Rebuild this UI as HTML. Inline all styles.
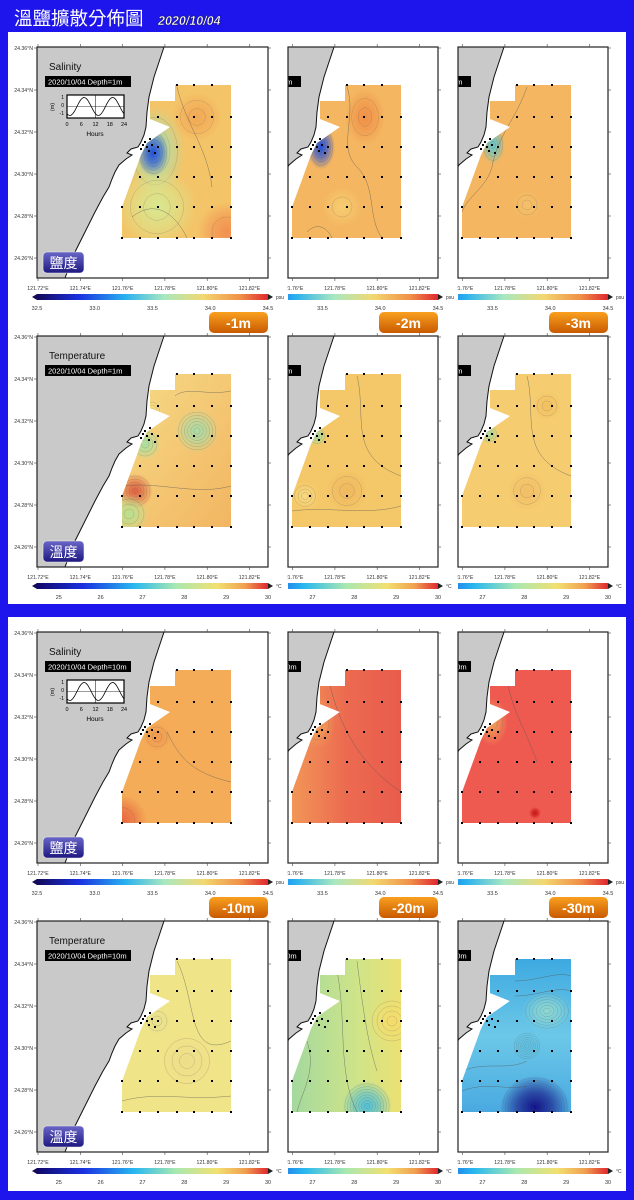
<!DOCTYPE html>
<html><head><meta charset="utf-8"><style>
html,body{margin:0;padding:0;background:#1e14ec;}
svg{display:block;font-family:"Liberation Sans","Noto Sans CJK TC",sans-serif;}
</style></head><body>
<svg id="s" width="634" height="1200" viewBox="0 0 634 1200" xmlns="http://www.w3.org/2000/svg">
<defs>
<linearGradient id="salbar" x1="0" x2="1"><stop offset="0" stop-color="#140a5a"/><stop offset="0.18" stop-color="#1a30e0"/><stop offset="0.38" stop-color="#28b0f0"/><stop offset="0.55" stop-color="#a8e8c0"/><stop offset="0.72" stop-color="#f2d870"/><stop offset="0.88" stop-color="#f09048"/><stop offset="1" stop-color="#e02830"/></linearGradient>
<linearGradient id="badge" x1="0" y1="0" x2="0" y2="1"><stop offset="0" stop-color="#6a66c8"/><stop offset="1" stop-color="#1c1880"/></linearGradient>
<linearGradient id="dbadge" x1="0" y1="0" x2="0" y2="1"><stop offset="0" stop-color="#f9a020"/><stop offset="1" stop-color="#c85a00"/></linearGradient>
</defs>
<rect x="0" y="0" width="634" height="1200" fill="#1e14ec"/>
<text x="14" y="25" font-size="18.5" fill="#fff" font-family="'Noto Sans CJK TC',sans-serif">溫鹽擴散分佈圖</text>
<text x="158" y="25" font-size="12.5" font-style="italic" font-weight="bold" fill="#fff" stroke="#101040" stroke-width="0.4">2020/10/04</text>
<rect x="8" y="32" width="618" height="572" fill="#fff"/>
<rect x="8" y="617" width="618" height="574" fill="#fff"/>
<g id="maps"></g>
</svg>
<script>
const NS="http://www.w3.org/2000/svg";
const root=document.getElementById('maps');
const defs=document.querySelector('defs');
// data arrays
const lonTicks=["121.72°E","121.74°E","121.76°E","121.78°E","121.80°E","121.82°E"];
const latTicks=["24.36°N","24.34°N","24.32°N","24.30°N","24.28°N","24.26°N"];
const salTicks=[32.5,33.0,33.5,34.0,34.5];
const tempTicks=[25,26,27,28,29,30];
const stationLonIdx=[0,1,2,3,4,5,6];
const stationLatIdx=[0,1,2,3,4,5];
const depthsTop=[1,2,3];
const depthsBottom=[10,20,30];

function el(tag,attrs,parent){const e=document.createElementNS(NS,tag);for(const k in attrs)e.setAttribute(k,attrs[k]);(parent||root).appendChild(e);return e;}
function txt(x,y,s,size,attrs,parent){const t=el('text',Object.assign({x:x,y:y,'font-size':size},attrs||{}),parent);t.textContent=s;return t;}

const coast=[[127,0],[122,15],[117,30],[112,50],[110,65],[109,80],[107,88],[104,95],[101,100],[94,102],[90,106],[95,108],[89,112],[82,118],[78,125],[75,132],[72,140],[66,150],[58,165],[48,185],[38,205],[28,231]];
const dataPoly=[[138,38],[194,38],[194,191],[85,191],[85,160],[104,108],[110,96],[133,80],[113,72],[113,54],[138,54]];
const colX=[85,103,121,140,157,175,194];
const rowY=[38,70,100,130,160,191];

let cid=0;
function inside(p,poly){let c=false;for(let i=0,j=poly.length-1;i<poly.length;j=i++){const a=poly[i],b=poly[j];if((a[1]>p[1])!=(b[1]>p[1])&&p[0]<(b[0]-a[0])*(p[1]-a[1])/(b[1]-a[1])+a[0])c=!c;}return c;}

function drawMap(cfg){
  const ox=cfg.ox, oy=cfg.oy, vx=cfg.vx;
  const g=el('g',{});
  
  
  const id='c'+(cid++);
  const cp=el('clipPath',{id:id},defs);el('rect',{x:vx,y:oy,width:ox+231-vx,height:231},cp);
  const dcp=el('clipPath',{id:id+'d'},defs);el('polygon',{points:dataPoly.map(p=>(p[0]+ox)+','+(p[1]+oy)).join(' ')},dcp);
  const inner=el('g',{'clip-path':'url(#'+id+')'},g);
  el('rect',{x:ox,y:oy,width:231,height:231,fill:'#fff'},inner);
  const land=el('polygon',{points:[[0,0]].concat(coast,[[0,231]]).map(p=>(p[0]+ox)+','+(p[1]+oy)).join(' '),fill:'#c9c9c9',stroke:'#111','stroke-width':1},inner);
  
  
  const dg=el('g',{'clip-path':'url(#'+id+'d)'},inner);
  
  
  el('rect',{x:ox+80,y:oy+35,width:120,height:160,fill:cfg.base},dg);
  if(cfg.grad){const gid=id+'g';const lg=el('linearGradient',{id:gid,x1:cfg.grad[0],y1:cfg.grad[1],x2:cfg.grad[2],y2:cfg.grad[3]},defs);
    cfg.grad[4].forEach((c,i)=>el('stop',{offset:c[0],'stop-color':c[1]},lg));
    el('rect',{x:ox+80,y:oy+35,width:120,height:160,fill:'url(#'+gid+')'},dg);}
  (cfg.blobs||[]).forEach((b,i)=>{const rid=id+'r'+i;const rg=el('radialGradient',{id:rid},defs);
    el('stop',{offset:0,'stop-color':b[3],'stop-opacity':1},rg);el('stop',{offset:0.5,'stop-color':b[3],'stop-opacity':0.6},rg);el('stop',{offset:1,'stop-color':b[3],'stop-opacity':0},rg);
    el('ellipse',{cx:ox+b[0],cy:oy+b[1],rx:b[2],ry:b[2]*(b[4]||1),fill:'url(#'+rid+')'},dg);
    const n=b[5]||3;for(let k=1;k<=n;k++)el('ellipse',{cx:ox+b[0],cy:oy+b[1],rx:b[2]*k/(n+1),ry:b[2]*(b[4]||1)*k/(n+1),fill:'none',stroke:'#555','stroke-width':0.4,opacity:0.4},dg);});
  (cfg.lines||[]).forEach(d=>{el('path',{d:d.replace(/(-?\d+\.?\d*),(-?\d+\.?\d*)/g,(m,a,b)=>(+a+ox)+','+(+b+oy)),fill:'none',stroke:'#555','stroke-width':0.5,opacity:0.7},dg);});
  stationLatIdx.forEach(r=>stationLonIdx.forEach(c=>{const p=[colX[c],rowY[r]];if(inside([p[0]+0.5,p[1]-0.5],dataPoly)||inside([p[0]+0.5,p[1]+0.5],dataPoly)||inside([p[0]-0.5,p[1]-0.5],dataPoly)){
    el('rect',{x:ox+p[0]-1,y:oy+p[1]-1,width:2,height:2,fill:'#000'},inner);}}));
  [[108,95],[110,100],[106,98],[112,104],[115,98],[104,102],[118,106],[113,92]].forEach(p=>el('rect',{x:ox+p[0]-1,y:oy+p[1]-1,width:2,height:2,fill:'#000'},inner));
  if(cfg.title){txt(ox+12,oy+23,cfg.title,10,{fill:'#111'},inner);}
  el('rect',{x:ox+8,y:oy+29,width:86,height:11,fill:'#000'},inner);
  txt(ox+11,oy+37.5,'2020/10/04 Depth='+cfg.depth+'m',7.5,{fill:'#fff'},inner);
  if(cfg.tide){
    el('rect',{x:ox+30,y:oy+48,width:57,height:23,fill:'#fff',stroke:'#000','stroke-width':1.2},inner);
    let d='';for(let i=0;i<=57;i++){const y=oy+59.5-9*Math.sin((i/57)*Math.PI*4-2.2);d+=(i?'L':'M')+(ox+30+i)+','+y.toFixed(1);}
    el('path',{d:d,fill:'none',stroke:'#000','stroke-width':0.8},inner);
    el('line',{x1:ox+58.5,y1:oy+48,x2:ox+58.5,y2:oy+71,stroke:'#000','stroke-width':0.5},inner);
    el('line',{x1:ox+30,y1:oy+59.5,x2:ox+87,y2:oy+59.5,stroke:'#000','stroke-width':0.4},inner);
    ['1','0','-1'].forEach((s,i)=>txt(ox+27,oy+52+i*8,s,5,{'text-anchor':'end'},inner));
    ['0','6','12','18','24'].forEach((s,i)=>txt(ox+30+i*14.25,oy+79,s,5.5,{'text-anchor':'middle'},inner));
    txt(ox+58,oy+89,'Hours',6.5,{'text-anchor':'middle'},inner);
    txt(ox+17,oy+60,'(m)',5.5,{'text-anchor':'middle',transform:'rotate(-90 '+(ox+17)+' '+(oy+60)+')'},inner);
  }
  if(cfg.badge){const b=el('g',{},inner);
    el('rect',{x:ox+6,y:oy+205,width:41,height:21,rx:4,fill:'url(#badge)',stroke:'#eee','stroke-width':0.6},b);
    txt(ox+26.5,oy+221,cfg.badge,14,{fill:'#fff','text-anchor':'middle','font-family':"'Noto Sans CJK TC',sans-serif"},b);}
  el('rect',{x:vx,y:oy,width:ox+231-vx,height:231,fill:'none',stroke:'#222','stroke-width':1.2},g);
  const lx=vx==ox?vx-15:vx-1;
  const lcp=el('clipPath',{id:id+'l'},defs);el('rect',{x:lx,y:oy-5,width:ox+250-lx,height:260},lcp);
  const lg=el('g',{'clip-path':'url(#'+id+'l)'},g);
  lonTicks.forEach((s,i)=>{const x=ox+1+i*42.3;el('line',{x1:x,y1:oy,x2:x,y2:oy-3,stroke:'#444','stroke-width':0.6},lg);el('line',{x1:x,y1:oy+231,x2:x,y2:oy+234,stroke:'#444','stroke-width':0.6},lg);
    txt(x,oy+243,s,5.2,{'text-anchor':'middle',fill:'#333'},lg);});
  latTicks.forEach((s,i)=>{const y=oy+1+i*42;el('line',{x1:ox+231,y1:y,x2:ox+234,y2:y,stroke:'#444','stroke-width':0.6},g);
    if(vx==ox){el('line',{x1:ox,y1:y,x2:ox-3,y2:y,stroke:'#444','stroke-width':0.6},g);txt(ox-4,y+2,s,5.2,{'text-anchor':'end',fill:'#333'},g);}});
  const cb=el('g',{},g);
  const ccp=el('clipPath',{id:id+'cb'},defs);el('rect',{x:vx-6,y:oy+245,width:ox+251-vx,height:30},ccp);
  const cbi=el('g',{'clip-path':'url(#'+id+'cb)'},cb);
  const bcp=el('clipPath',{id:id+'bb'},defs);el('rect',{x:vx,y:oy+245,width:ox+245-vx,height:30},bcp);
  el('rect',{x:ox,y:oy+247,width:231,height:6,fill:'url(#'+cfg.bar+')','clip-path':'url(#'+id+'bb)'},cb);
  el('polygon',{points:(ox+231)+','+(oy+247)+' '+(ox+236)+','+(oy+250)+' '+(ox+231)+','+(oy+253),fill:'#222'},cb);
  if(vx==ox)el('polygon',{points:ox+','+(oy+247)+' '+(ox-5)+','+(oy+250)+' '+ox+','+(oy+253),fill:'#140a5a'},cb);
  txt(ox+239,oy+252,cfg.unit,5,{fill:'#333'},cb);
  const ticks=cfg.type=='sal'?salTicks:tempTicks;
  const lo=cfg.type=='sal'?32.5:24.48, hi=cfg.type=='sal'?34.5:30;
  ticks.forEach(v=>{const x=ox+(v-lo)/(hi-lo)*231;if(x<vx-1)return;txt(x,oy+263,cfg.type=='sal'?v.toFixed(1):String(v),5.5,{'text-anchor':'middle',fill:'#333'},cbi);});
  if(cfg.dlabel){const b=el('g',{},g);
    el('rect',{x:ox+172,y:oy+265,width:59,height:21,rx:5,fill:'url(#dbadge)'},b);
    txt(ox+201.5,oy+281,cfg.dlabel,14,{fill:'#fff','text-anchor':'middle','font-weight':'bold'},b);}
}
(function(){const lg=el('linearGradient',{id:'tbar',x1:0,x2:1},defs);
 [[0,'#10086a'],[0.2,'#1a30e0'],[0.42,'#28b8f0'],[0.6,'#a8e8b0'],[0.78,'#f2e070'],[0.9,'#f0a050'],[1,'#e02830']].forEach(s=>el('stop',{offset:s[0],'stop-color':s[1]},lg));})();

const cols=[37,207,377], vis=[37,288,458];
const rowsY=[47,336,632,921];
const salTop=[
 {base:'#f4c468',blobs:[[118,104,30,'#a8e0b0',1.5,3],[116,106,16,'#2050e0',1.5,6],[120,160,40,'#d8e890',1,2],[160,70,25,'#f2a855',1,2],[190,185,30,'#f29050',1,1]],lines:['M140,40 C150,80 170,100 175,140','M95,170 C120,150 140,170 150,191']},
 {base:'#f4b660',blobs:[[114,100,14,'#2050e0',1.6,5],[158,70,20,'#f09048',1.4,2],[135,160,20,'#f6cc70',1,1]],lines:['M140,40 C150,70 130,100 150,120 C170,140 160,170 175,191','M100,185 C110,175 120,180 125,191']},
 {base:'#f4b660',blobs:[[116,98,12,'#60c8d0',1.6,4],[150,158,15,'#f5c06a',1,2]],lines:['M150,40 C140,70 120,90 115,120 C110,140 90,150 85,165']}
];
const tempTop=[
 {base:'#f3c86a',grad:[0,0,1,1,[[0,'#f6dc88'],[1,'#f2b460']]],blobs:[[160,95,22,'#a8dca8',1,6],[98,155,18,'#e06040',1,5],[92,178,20,'#b8e090',1,3],[115,75,10,'#f8e080',1.2,3],[108,108,16,'#a8e0a0',1,3]],lines:['M138,60 C150,50 170,60 194,55','M85,150 C120,145 160,160 194,150']},
 {base:'#f4c868',blobs:[[110,100,10,'#a8e0a0',1,3],[98,160,14,'#f6d880',1,3],[140,155,22,'#f0b860',1,2]],lines:['M150,40 C160,80 140,120 194,140','M85,175 C120,170 160,180 194,170']},
 {base:'#f5cc70',blobs:[[112,98,10,'#b0e0a0',1,3],[150,155,20,'#f2be66',1,2],[170,70,15,'#f2c060',1,2]],lines:['M150,40 C160,80 140,120 194,140']}
];
const salBot=[
 {base:'#f4ac58',blobs:[[85,188,25,'#e86840',1,1],[120,105,15,'#f09a50',1,2]],lines:['M130,100 C140,120 150,140 194,150']},
 {base:'#ec6a50',grad:[0,0,1,0,[[0,'#f29a58'],[0.5,'#ec6a50'],[1,'#e85a4c']]],blobs:[[110,90,18,'#f2a058',1.5,2]],lines:['M120,40 C130,90 150,130 194,160']},
 {base:'#ee5a50',blobs:[[115,90,16,'#f0a058',1.5,2],[158,181,6,'#d01010',1,1]],lines:['M130,40 C130,70 150,100 160,130']}
];
const tempBot=[
 {base:'#f0e488',blobs:[[150,140,30,'#eede8a',1,3],[120,100,15,'#e8e090',1,2]],lines:['M140,40 C160,80 150,140 194,120','M85,180 C120,170 150,180 194,175']},
 {base:'#c8e08a',grad:[0,0,1,0,[[0,'#a0d8a0'],[0.6,'#d0e488'],[1,'#f0e070']]],blobs:[[160,185,25,'#50c0d8',1,8],[185,100,25,'#f4dc6c',1,4]],lines:['M100,120 C110,150 95,170 90,191','M130,50 C140,100 130,150 150,191','M150,40 C155,80 160,120 170,150']},
 {base:'#58b8e8',grad:[0,0,0,1,[[0,'#3ca8e0'],[0.5,'#6cc8e8'],[1,'#48a8e0']]],blobs:[[158,186,35,'#10108a',0.9,12],[170,90,25,'#90d8d0',0.8,6],[150,125,15,'#60c0e0',1,6]],lines:['M85,170 C110,160 130,170 150,165','M85,150 C110,140 130,150 150,140','M138,60 C160,60 180,50 194,55','M138,75 C160,75 180,65 194,70']}
];
[[0,'sal',salTop,depthsTop],[1,'temp',tempTop,depthsTop],[2,'sal',salBot,depthsBottom],[3,'temp',tempBot,depthsBottom]].forEach(([ri,type,cfgs,depths])=>{
  cfgs.forEach((c,i)=>{
    Object.assign(c,{ox:cols[i],oy:rowsY[ri],vx:vis[i],type:type,depth:depths[i],bar:type=='sal'?'salbar':'tbar',unit:type=='sal'?'psu':'°C',
      name:(type=='sal'?'salinity':'temperature')+'-map-'+depths[i]+'m',
      title:i==0?(type=='sal'?'Salinity':'Temperature'):null,tide:i==0&&type=='sal',badge:i==0?(type=='sal'?'鹽度':'溫度'):null,
      dlabel:type=='sal'?'-'+depths[i]+'m':null});
    drawMap(c);
  });
});
</script>
</body></html>
